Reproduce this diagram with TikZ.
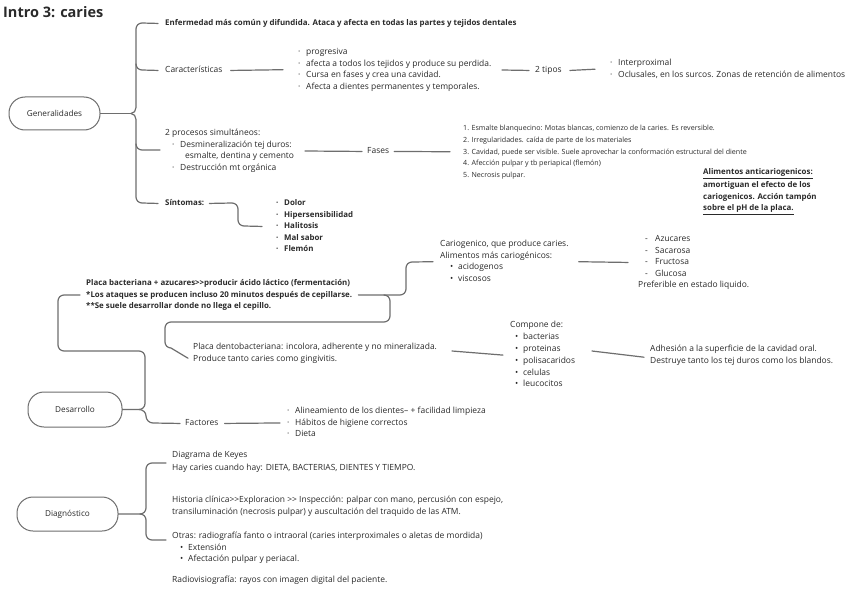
\documentclass[tikz,border=0pt]{standalone}
\usepackage{fontspec}
\setmainfont{Open Sans}
\newfontfamily\titlefont{Open Sans}
\definecolor{ink}{HTML}{2A2A2A}
\definecolor{wirecol}{HTML}{6E6E6E}
\newcommand{\bl}{\makebox[8pt][l]{·}}
\newcommand{\bd}{\makebox[8pt][l]{•}}
\newcommand{\dd}{\makebox[10pt][l]{-}}
\tikzset{
  txt/.style={anchor=north west, inner sep=0pt, align=left, text=ink, font=\fontsize{8.45}{11.5}\selectfont},
  txtb/.style={txt, font=\fontsize{7.9}{11.5}\selectfont\bfseries},
  txts/.style={txt, font=\fontsize{7.1}{11.7}\selectfont},
  topic/.style={draw=wirecol, line width=1pt, rounded corners=16pt, inner sep=0pt, text=ink, font=\fontsize{8.2}{10}\selectfont},
  wire/.style={draw=wirecol, line width=1.2pt, line cap=round},
}
\begin{document}
\begin{tikzpicture}[x=1pt,y=-1pt]
\fill[white] (0,0) rectangle (848,599);
\useasboundingbox (0,0) rectangle (848,599);

\node[anchor=west, inner sep=0pt, text=ink, font=\titlefont\bfseries\fontsize{14.5}{16}\selectfont] (title) at (3,12) {Intro 3: caries};

% topics
\node[topic, minimum width=91pt, minimum height=33pt] (gen) at (54.5,113.5) {Generalidades};
\node[topic, minimum width=94pt, minimum height=35pt] (des) at (75,409.5) {Desarrollo};
\node[topic, minimum width=101pt, minimum height=34pt] (dia) at (67.5,514) {Diagnóstico};

% Generalidades texts
\node[txtb] (enf) at (165,17.5) {\strut Enfermedad más común y difundida. Ataca y afecta en todas las partes y tejidos dentales};
\node[txt] (car) at (165,64.5) {\strut Características};
\node[txt] (carl) at (298,46.5) {\strut\bl progresiva\\\strut\bl afecta a todos los tejidos y produce su perdida.\\\strut\bl Cursa en fases y crea una cavidad.\\\strut\bl Afecta a dientes permanentes y temporales.};
\node[txt] (tip) at (535,64.5) {\strut 2 tipos};
\node[txt] (tipl) at (610,57.5) {\strut\bl Interproximal\\\strut\bl Oclusales, en los surcos. Zonas de retención de alimentos};
\node[txt] (pro) at (165,127.5) {\strut 2 procesos simultáneos:\\\strut\hspace*{7pt}\bl Desmineralización tej duros:\\\strut\hspace*{20pt}esmalte, dentina y cemento\\\strut\hspace*{7pt}\bl Destrucción mt orgánica};
\node[txt] (fas) at (367,145.5) {\strut Fases};
\node[txts] (fasl) at (463,122.3) {\strut 1. Esmalte blanquecino: Motas blancas, comienzo de la caries. Es reversible.\\\strut 2. Irregularidades. caída de parte de los materiales\\\strut 3. Cavidad, puede ser visible. Suele aprovechar la conformación estructural del diente\\\strut 4. Afección pulpar y tb periapical (flemón)\\\strut 5. Necrosis pulpar.};
\node[txtb] (anti) at (703,166.5) {\strut\underline{Alimentos anticariogenicos:}\\\strut amortiguan el efecto de los\\\strut cariogenicos. Acción tampón\\\strut\underline{sobre el pH de la placa.}};
\node[txtb] (sin) at (165,197.5) {\strut Síntomas:};
\node[txtb] (sinl) at (276,197.5) {\strut\bl Dolor\\\strut\bl Hipersensibilidad\\\strut\bl Halitosis\\\strut\bl Mal sabor\\\strut\bl Flemón};

% Desarrollo texts
\node[txtb] (pb) at (86,277.5) {\strut Placa bacteriana + azucares>{}>producir ácido láctico (fermentación)\\\strut *Los ataques se producen incluso 20 minutos después de cepillarse.\\\strut **Se suele desarrollar donde no llega el cepillo.};
\node[txt] (cario) at (440,238.5) {\strut Cariogenico, que produce caries.\\\strut Alimentos más cariogénicos:\\\strut\hspace*{10pt}\bd acidogenos\\\strut\hspace*{10pt}\bd viscosos};
\node[txt] (azu) at (638,233.5) {\strut\hspace*{7pt}\dd Azucares\\\strut\hspace*{7pt}\dd Sacarosa\\\strut\hspace*{7pt}\dd Fructosa\\\strut\hspace*{7pt}\dd Glucosa\\\strut Preferible en estado liquido.};
\node[txt] (pd) at (193,341.5) {\strut Placa dentobacteriana: incolora, adherente y no mineralizada.\\\strut Produce tanto caries como gingivitis.};
\node[txt, font=\fontsize{8.45}{11.8}\selectfont] (comp) at (510,319.5) {\strut Compone de:\\\strut\hspace*{5pt}\bd bacterias\\\strut\hspace*{5pt}\bd proteinas\\\strut\hspace*{5pt}\bd polisacaridos\\\strut\hspace*{5pt}\bd celulas\\\strut\hspace*{5pt}\bd leucocitos};
\node[txt] (adh) at (650,343.5) {\strut Adhesión a la superficie de la cavidad oral.\\\strut Destruye tanto los tej duros como los blandos.};
\node[txt] (fac) at (185,417.5) {\strut Factores};
\node[txt] (facl) at (287,405.5) {\strut\bl Alineamiento de los dientes-- + facilidad limpieza\\\strut\bl Hábitos de higiene correctos\\\strut\bl Dieta};

% Diagnostico texts
\node[txt] (key) at (172,449.5) {\strut Diagrama de Keyes\\[1.5pt]\strut Hay caries cuando hay: DIETA, BACTERIAS, DIENTES Y TIEMPO.};
\node[txt] (his) at (172,494.5) {\strut Historia clínica>{}>Exploracion >{}> Inspección: palpar con mano, percusión con espejo,\\\strut transiluminación (necrosis pulpar) y auscultación del traquido de las ATM.};
\node[txt] (otr) at (172,530.5) {\strut Otras: radiografía fanto o intraoral (caries interproximales o aletas de mordida)\\\strut\hspace*{8pt}\bd Extensión\\\strut\hspace*{8pt}\bd Afectación pulpar y periacal.};
\node[txt] (rad) at (172,574.5) {\strut Radiovisiografía: rayos con imagen digital del paciente.};

% ---- connectors: Generalidades
\coordinate (gj) at (131,113.5);
\draw[wire] (gen.east) -- (gj);
\draw[wire] (gj) to[out=0,in=-90] (136,107.5) -- (136,29) to[out=90,in=180] (142,23) -- ([xshift=-7pt]enf.west);
\draw[wire] (gj) to[out=0,in=90] (136,119.5) -- (136,197) to[out=-90,in=180] (142,203) -- ([xshift=-7pt]sin.west);
\draw[wire] (136,64) to[out=-90,in=180] (142,70) -- ([xshift=-7pt]car.west);
\draw[wire] (136,144) to[out=-90,in=180] (142,150) -- (160,150);
\draw[wire] ([xshift=8pt]car.east) -- ([xshift=-15pt]carl.west);
\coordinate (c1) at (502,70);
\draw[wire] (c1) -- ([xshift=-6pt]tip.west);
\draw[wire] ([xshift=8pt]tip.east) -- ([xshift=-15pt]tipl.west);
\coordinate (c2) at (305,151);
\draw[wire] (c2) -- ([xshift=-5pt]fas.west);
\draw[wire] ([xshift=5pt]fas.east) -- ([xshift=-13pt]fasl.west);
\draw[wire] ([xshift=5pt]sin.east) -- (232,203) to[out=0,in=90] (238,209) -- (238,220) to[out=-90,in=180] (244,226) -- ([xshift=-14pt]sinl.west);

% ---- connectors: Desarrollo
\coordinate (dj) at (139,409.5);
\draw[wire] (des.east) -- (dj) to[out=0,in=-90] (145,403.5) -- (145,357) to[out=90,in=0] (139,351) -- (64,351) to[out=180,in=-90] (58,345) -- (58,301) to[out=90,in=180] (64,295) -- ([xshift=-6pt]pb.west);
\draw[wire] (dj) to[out=0,in=90] (146,416) to[out=-90,in=180] (153,423) -- ([xshift=-5pt]fac.west);
\draw[wire] ([xshift=6pt]fac.east) -- ([xshift=-7pt]facl.west);
\draw[wire] ([xshift=6pt]pb.east) -- (400,295) to[out=0,in=-90] (406,289) -- (406,268) to[out=90,in=180] (412,262) -- ([xshift=-7pt]cario.west);
\draw[wire] (384,295) to[out=0,in=90] (390,301) -- (390,316) to[out=-90,in=0] (384,322) -- (171,322) to[out=180,in=90] (165,328) -- (165,342) to[out=-90,in=180] (171,348) -- ([xshift=-5pt,yshift=-5pt]pd.west);
\draw[wire] ([xshift=10pt]cario.east) -- ([xshift=-10pt]azu.west);
\coordinate (c3) at (452,351);
\draw[wire] (c3) -- ([xshift=-7pt]comp.west);
\coordinate (c4) at (592,351);
\draw[wire] (c4) -- ([xshift=-6pt,yshift=-2pt]adh.west);

% ---- connectors: Diagnostico
\coordinate (xj) at (140,514);
\draw[wire] (dia.east) -- (xj) to[out=0,in=-90] (146,508) -- (146,469) to[out=90,in=180] (152,463) -- (166,463);
\draw[wire] (xj) to[out=0,in=90] (146,520) -- (146,534) to[out=-90,in=180] (152,540) -- (166,540);
\end{tikzpicture}
\end{document}
